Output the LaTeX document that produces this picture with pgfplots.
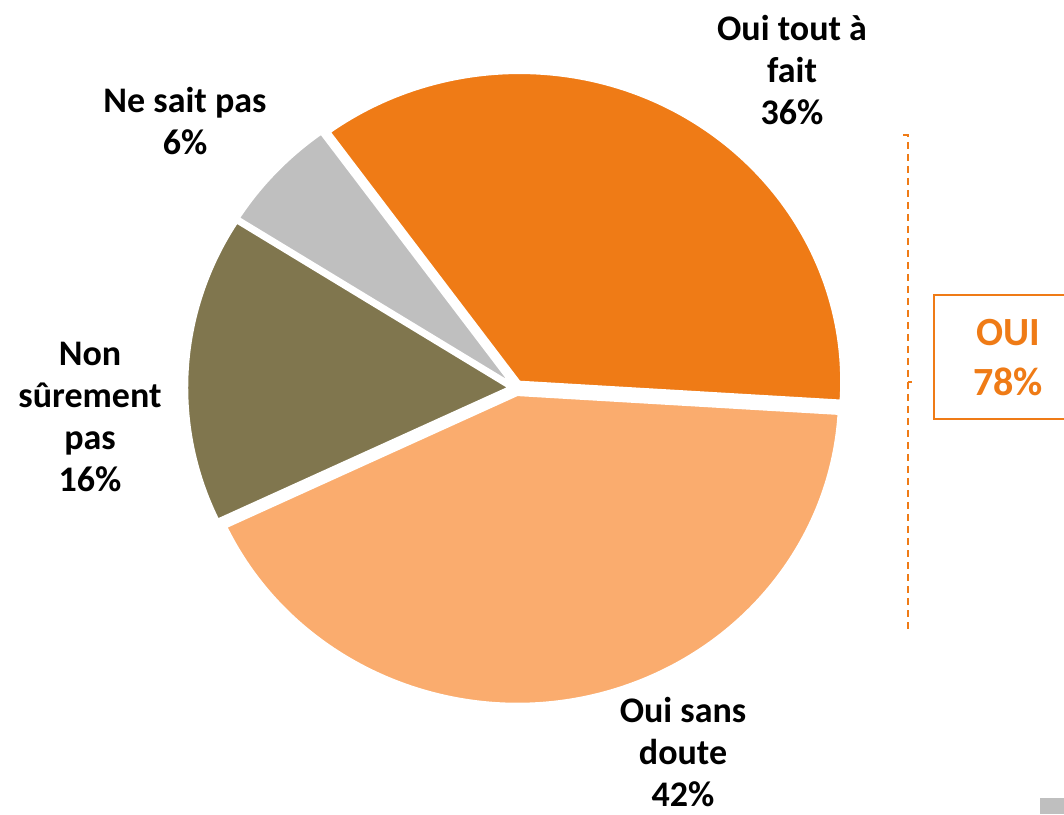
\documentclass[border=0pt]{standalone}
\usepackage{pgfplots}
\pgfplotsset{compat=1.18}
\usepackage{fontspec}
\setmainfont{Carlito}
\definecolor{cA}{RGB}{239,123,22}
\definecolor{cB}{RGB}{191,191,191}
\definecolor{cC}{RGB}{128,118,78}
\definecolor{cD}{RGB}{250,172,110}
\newcommand\pieslice[3]{%
  \pgfmathsetmacro\psS{#1}%
  \pgfmathsetmacro\psE{\psS+3.6*#2}%
  \pgfmathsetmacro\psM{(\psS+\psE)/2}%
  \pgfmathsetmacro\psOx{516+7*cos(\psM)}%
  \pgfmathsetmacro\psOy{426+7*sin(\psM)}%
  \pgfmathsetmacro\psPx{\psOx+322*cos(\psS)}%
  \pgfmathsetmacro\psPy{\psOy+309*sin(\psS)}%
  \edef\pstemp{\noexpand\fill[#3, draw=white, line width=1.2pt] (axis cs:\psOx,\psOy) -- (axis cs:\psPx,\psPy) arc[start angle=\psS, end angle=\psE, x radius=161pt, y radius=154.5pt] -- cycle;}%
  \pstemp
}
\begin{document}
\begin{tikzpicture}
\begin{axis}[
  hide axis, scale only axis, width=532pt, height=407pt,
  xmin=0, xmax=1064, ymin=0, ymax=814, clip=false]
% values: Oui tout a fait 36, Ne sait pas 6, Non surement pas 16, Oui sans doute 42
\pieslice{-3.5}{36}{cA}
\pieslice{\psE}{6}{cB}
\pieslice{\psE}{16}{cC}
\pieslice{\psE}{42}{cD}
\node[align=center, font=\fontsize{18}{21}\selectfont\bfseries] at (axis cs:792,744) {Oui tout à\\fait\\36\%};
\node[align=center, font=\fontsize{18}{21}\selectfont\bfseries] at (axis cs:185,693) {Ne sait pas\\6\%};
\node[align=center, font=\fontsize{18}{21}\selectfont\bfseries] at (axis cs:90,397) {Non\\sûrement\\pas\\16\%};
\node[align=center, inner sep=0pt, font=\fontsize{18}{21}\selectfont\bfseries] at (axis cs:683,62) {Oui sans\\doute\\42\%};
\draw[cA, line width=0.8pt, dash pattern=on 3.5pt off 2.5pt] (axis cs:903,679) -- (axis cs:908,679) -- (axis cs:908,186) -- (axis cs:903,186);
\draw[cA, line width=0.8pt] (axis cs:908,432) -- (axis cs:912,432);
\draw[cA, line width=1pt] (axis cs:1066,519) -- (axis cs:934,519) -- (axis cs:934,395) -- (axis cs:1066,395);
\node[align=center, text=cA, font=\fontsize{20}{25}\selectfont\bfseries] at (axis cs:1008,456) {OUI\\78\%};
\fill[cB] (axis cs:1040,0) rectangle (axis cs:1064,16);
\end{axis}
\pgfresetboundingbox
\path[use as bounding box] (0,0) rectangle (532pt,407pt);
\end{tikzpicture}
\end{document}
